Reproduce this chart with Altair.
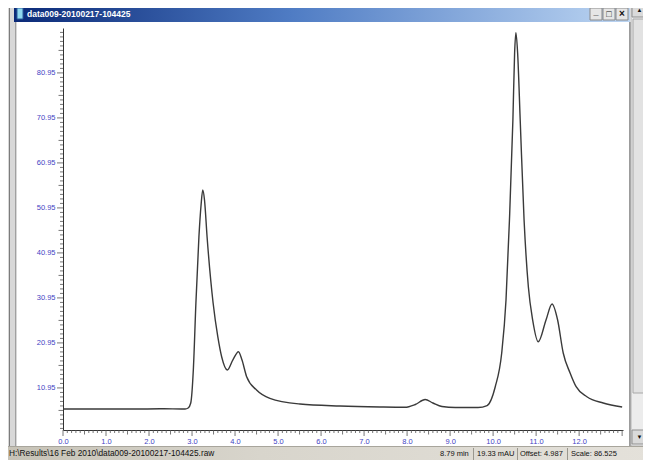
import altair as alt
import pandas as pd

# chromatogram trace (time in min, signal in mAU)
time_min = [0.00, 1.09, 1.79, 2.26, 2.84, 2.91, 2.97, 3.03, 3.09, 3.16, 3.21,
            3.25, 3.29, 3.35, 3.49, 3.60, 3.69, 3.82, 3.95, 4.08, 4.16, 4.27,
            4.50, 4.81, 5.51, 6.44, 7.37, 7.95, 8.19, 8.42, 8.60, 8.81, 9.12,
            9.65, 9.86, 10.05, 10.20, 10.30, 10.38, 10.46, 10.50, 10.53, 10.57,
            10.63, 10.72, 10.82, 10.92, 11.05, 11.23, 11.37, 11.50, 11.63,
            11.79, 11.93, 12.18, 12.56, 13.00]
signal_mau = [6.27, 6.27, 6.27, 6.31, 6.27, 6.49, 7.6, 14.93, 29.82, 44.49, 51.6,
              54.93, 52.7, 44.49, 29.82, 22.27, 17.82, 14.93, 17.2, 19.0, 17.2, 13.44,
              10.49, 8.64, 7.38, 6.93, 6.71, 6.64, 7.27, 8.38, 7.6, 6.82, 6.6,
              6.6, 7.04, 11.22, 18.71, 30.49, 48.27, 70.49, 85.38, 89.89, 85.38,
              70.49, 48.27, 33.38, 26.04, 21.22, 26.04, 29.6, 26.04, 18.71,
              14.27, 11.22, 9.0, 7.6, 6.71]

x_labels = list(range(0, 13))
x_major = list(range(0, 14))
x_half = [i + 0.5 for i in range(0, 13)]
x_minor = [round(i * 0.1, 1) for i in range(0, 131) if i % 5]
y_major = [10.95, 20.95, 30.95, 40.95, 50.95, 60.95, 70.95, 80.95]
y_half = [5.95, 15.95, 25.95, 35.95, 45.95, 55.95, 65.95, 75.95, 85.95]
y_minor = [round(1.95 + i, 2) for i in range(0, 89) if (i + 1) % 5]

window_title = "data009-20100217-104425"
status_path = "H:\\Results\\16 Feb 2010\\data009-20100217-104425.raw"
status_fields = ["8.79 min", "19.33 mAU", "Offset: 4.987", "Scale: 86.525"]

OX, OY = 63, 28  # page position of the plot origin
W, H = 560, 402
CW, CH = 635, 452  # whole canvas, kept inside the window
FONT = "Liberation Sans"
BLUE = "#4343c4"

xs = alt.Scale(domain=[0, 13.02], nice=False, zero=False)
ys = alt.Scale(domain=[1.6, 90.93], nice=False, zero=False)
xaxis = alt.Axis(values=x_labels, format=".1f", title=None, grid=False, ticks=False,
                 labelPadding=7, labelColor=BLUE, labelFont=FONT, labelFontSize=7.5,
                 domainColor="#333333", labelFlush=False)
yaxis = alt.Axis(values=y_major, format=".2f", title=None, grid=False, ticks=False,
                 labelPadding=8, labelColor=BLUE, labelFont=FONT, labelFontSize=7.5,
                 domainColor="#333333")
X = alt.X("t:Q", scale=xs, axis=xaxis)
Y = alt.Y("mAU:Q", scale=ys, axis=yaxis)


def one():
    return alt.Chart(alt.Data(values=[{}]))


def box(x1, y1, x2, y2, fill, stroke=None):
    kw = {"fill": fill}
    if stroke:
        kw.update(stroke=stroke, strokeWidth=1)
    return one().mark_rect(**kw).encode(
        x=alt.value(x1 - OX), x2=alt.value(x2 - OX),
        y=alt.value(y1 - OY), y2=alt.value(y2 - OY))


def text(txt, x, y, size=8, color="#111111", weight="normal", align="left"):
    return one().mark_text(text=txt, font=FONT, fontSize=size, color=color,
                           fontWeight=weight, align=align, baseline="middle").encode(
        x=alt.value(x - OX), y=alt.value(y - OY))


def grad(stops, vertical=False):
    return alt.LinearGradient(
        gradient="linear",
        stops=[alt.GradientStop(color=c, offset=o) for o, c in stops],
        x1=0, x2=0 if vertical else 1, y1=0, y2=1 if vertical else 0)


def xticks(values, length):
    return alt.Chart(pd.DataFrame({"t": values})).mark_rule(
        color="#555555", strokeWidth=0.8).encode(
        x=X, y=alt.value(H), y2=alt.value(H + length))


def yticks(values, length):
    return alt.Chart(pd.DataFrame({"mAU": values})).mark_rule(
        color="#555555", strokeWidth=0.8).encode(
        y=Y, x=alt.value(0), x2=alt.value(-length))


trace = alt.Chart(pd.DataFrame({"t": time_min, "mAU": signal_mau})).mark_line(
    color="#3a3a3a", strokeWidth=1.4, interpolate="monotone"
).encode(x=X, y=Y)

chrome = [
    # left frame
    box(8, 0, 17, 447, "#d8d8d8"),
    box(9, 0, 10, 447, "#7c7c7c"),
    box(15, 22, 16, 447, "#a0a0a0"),
    # title bar
    box(14, 4, 630, 22, grad([(0, "#0b2a78"), (0.45, "#4f7cc4"), (1, "#bcd5f2")])),
    box(17, 8, 23, 19, "#8fd8ee", "#2a5a9a"),
    text(window_title, 27, 14, size=8.5, color="#ffffff", weight="bold"),
    box(590, 8, 602, 20, "#e6e6e6", "#8a8a8a"),
    box(603, 8, 615, 20, "#e6e6e6", "#8a8a8a"),
    box(616, 8, 628, 20, "#e6e6e6", "#8a8a8a"),
    text("_", 596, 12, size=9, weight="bold", align="center"),
    text("□", 609, 14, size=9, weight="bold", align="center"),
    text("×", 622, 14, size=10, weight="bold", align="center"),
    # right frame and scrollbar
    box(629, 22, 631, 446, "#9c9c9c"),
    box(631, 0, 649, 446, "#ececec", "#b4b4b4"),
    box(633, 19, 646, 393, "#e2e2e2", "#a8a8a8"),
    box(632, 3, 647, 17, "#dadada", "#909090"),
    box(632, 430, 647, 444, "#dadada", "#909090"),
    text("▲", 639.5, 10, size=6, align="center"),
    text("▼", 639.5, 437, size=6, align="center"),
    # status bar
    box(0, 446, 651, 466, grad([(0, "#c6c2b6"), (0.4, "#d8d5cc"), (1, "#e4e1da")])),
    box(8, 446, 651, 447, "#a8a59c"),
    text(status_path, 9, 454, size=8.3),
    box(473, 448, 474, 466, "#9a978e"),
    box(517, 448, 518, 466, "#9a978e"),
    box(567, 448, 568, 466, "#9a978e"),
    text(status_fields[0], 440, 454, size=7.5),
    text(status_fields[1], 477, 454, size=7.5),
    text(status_fields[2], 520, 454, size=7.5),
    text(status_fields[3], 571, 454, size=7.5),
]

ticks = [
    xticks(x_minor, 3), xticks(x_half, 4.5), xticks(x_major, 6),
    yticks(y_minor, 3), yticks(y_half, 4.5), yticks(y_major, 6),
]

chart = alt.layer(*chrome[:1], *ticks, trace, *chrome[1:]).properties(
    width=W, height=H,
    autosize=alt.AutoSizeParams(type="none"),
    padding={"left": OX - 8, "top": OY - 8, "right": CW - W - (OX - 8),
             "bottom": CH - H - (OY - 8)},
    background="#ffffff",
).configure_view(stroke=None)

chart.save("out.html", embed_options={"renderer": "svg", "actions": False})
